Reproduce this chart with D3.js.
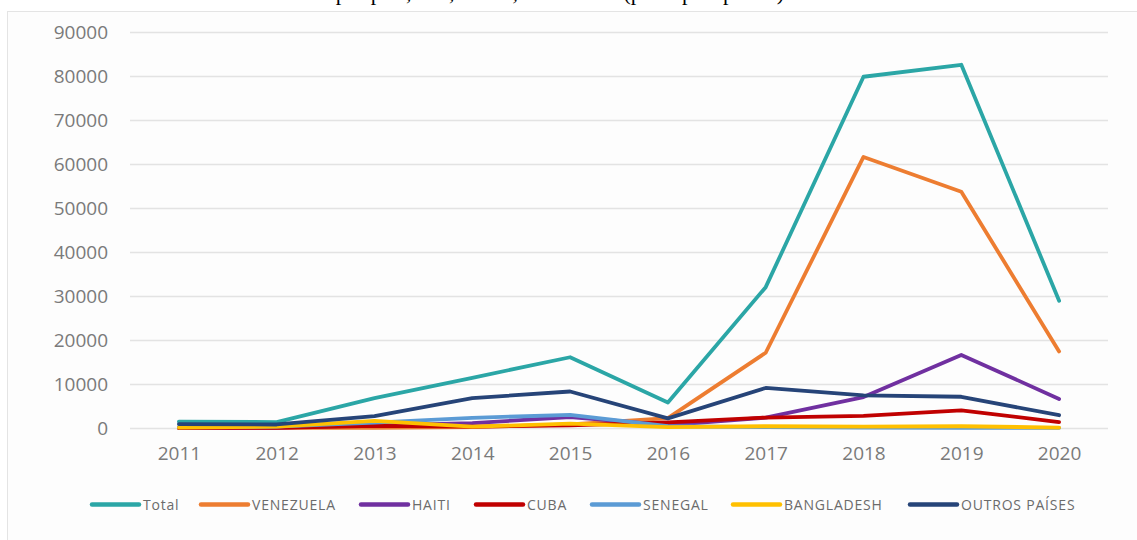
<!DOCTYPE html>
<html>
<head>
<meta charset="utf-8">
<script src="https://cdn.jsdelivr.net/npm/d3@7"></script>
<style>
    body { margin: 0; background: #ffffff; }
    svg { display: block; }
</style>
</head>
<body>
<svg width="1137" height="540"></svg>
<script>
var years = ["2011", "2012", "2013", "2014", "2015", "2016", "2017", "2018", "2019", "2020"];
var yTicks = [0, 10000, 20000, 30000, 40000, 50000, 60000, 70000, 80000, 90000];

var seriesNames = ["Total", "VENEZUELA", "HAITI", "CUBA", "SENEGAL", "BANGLADESH", "OUTROS PAÍSES"];
var seriesColors = ["#2ba6a6", "#ed7d31", "#7030a0", "#c00000", "#5b9bd5", "#ffc000", "#264478"];

var total      = [1465, 1345, 6810, 11405, 16080, 5796, 32009, 79831, 82552, 28899];
var venezuela  = [10, 10, 50, 200, 800, 2230, 17100, 61600, 53700, 17400];
var haiti      = [30, 100, 600, 1100, 2500, 650, 2362, 7030, 16610, 6613];
var cuba       = [20, 50, 500, 300, 600, 1300, 2373, 2749, 3999, 1343];
var senegal    = [200, 300, 1200, 2300, 3000, 400, 200, 100, 50, 30];
var bangladesh = [100, 300, 1600, 300, 1000, 200, 400, 300, 400, 100];
var outros     = [900, 800, 2700, 6800, 8300, 2200, 9100, 7400, 7100, 2900];

var seriesValues = [total, venezuela, haiti, cuba, senegal, bangladesh, outros];

var svg = d3.select("svg");

// title, clipped at the top of the picture like in the source
svg.append("text")
    .attr("x", 560)
    .attr("y", 0)
    .attr("text-anchor", "middle")
    .style("font-family", "'Liberation Serif', 'Times New Roman', serif")
    .style("font-size", "22px")
    .attr("fill", "#000")
    .text("por país, ano, Brasil, 2011-2020 (principais países)");

// chart frame
svg.append("rect")
    .attr("x", 7.5)
    .attr("y", 11.5)
    .attr("width", 1140)
    .attr("height", 540)
    .attr("fill", "#fdfdfd")
    .attr("stroke", "#e4e4e4")
    .attr("stroke-width", 1);

var plot = { left: 130, right: 1108, top: 32, bottom: 428 };

var x = d3.scalePoint()
    .domain(years)
    .range([plot.left, plot.right])
    .padding(0.5);

var y = d3.scaleLinear()
    .domain([0, 90000])
    .range([plot.bottom, plot.top]);

// gridlines
svg.append("g")
    .selectAll("line")
    .data(yTicks)
    .enter().append("line")
    .attr("x1", plot.left)
    .attr("x2", plot.right)
    .attr("y1", function (d) { return Math.round(y(d)) + 0.5; })
    .attr("y2", function (d) { return Math.round(y(d)) + 0.5; })
    .attr("stroke", "#e3e3e3")
    .attr("stroke-width", 1.5);

var yAxis = svg.append("g")
    .attr("transform", "translate(108,0)")
    .call(d3.axisLeft(y).tickValues(yTicks).tickSize(0).tickPadding(0).tickFormat(d3.format("d")));
yAxis.select(".domain").remove();
yAxis.selectAll("text")
    .style("font-family", "'Open Sans', sans-serif")
    .style("font-size", "19px")
    .attr("fill", "#7a7a7a");

var xAxis = svg.append("g")
    .attr("transform", "translate(0," + plot.bottom + ")")
    .call(d3.axisBottom(x).tickSize(0).tickPadding(19));
xAxis.select(".domain").remove();
xAxis.selectAll("text")
    .style("font-family", "'Open Sans', sans-serif")
    .style("font-size", "19px")
    .attr("fill", "#7a7a7a");

var line = d3.line()
    .x(function (d, i) { return x(years[i]); })
    .y(function (d) { return y(d); });

svg.append("g")
    .selectAll("path")
    .data(seriesValues)
    .enter().append("path")
    .attr("d", line)
    .attr("fill", "none")
    .attr("stroke", function (d, i) { return seriesColors[i]; })
    .attr("stroke-width", 3.8)
    .attr("stroke-linejoin", "round")
    .attr("stroke-linecap", "round");

// legend
var legendX = [91, 200, 360, 475, 591, 732, 909];
var legend = svg.append("g")
    .selectAll("g")
    .data(seriesNames)
    .enter().append("g")
    .attr("transform", function (d, i) { return "translate(" + legendX[i] + ",504.5)"; });

legend.append("line")
    .attr("x1", 1)
    .attr("x2", 48)
    .attr("stroke", function (d, i) { return seriesColors[i]; })
    .attr("stroke-width", 4.5)
    .attr("stroke-linecap", "round");

legend.append("text")
    .attr("x", 52)
    .attr("dy", "0.36em")
    .style("font-family", "'Open Sans', sans-serif")
    .style("font-size", "14px")
    .style("letter-spacing", "0.8px")
    .attr("fill", "#6b6b6b")
    .text(function (d) { return d; });
</script>
</body>
</html>
